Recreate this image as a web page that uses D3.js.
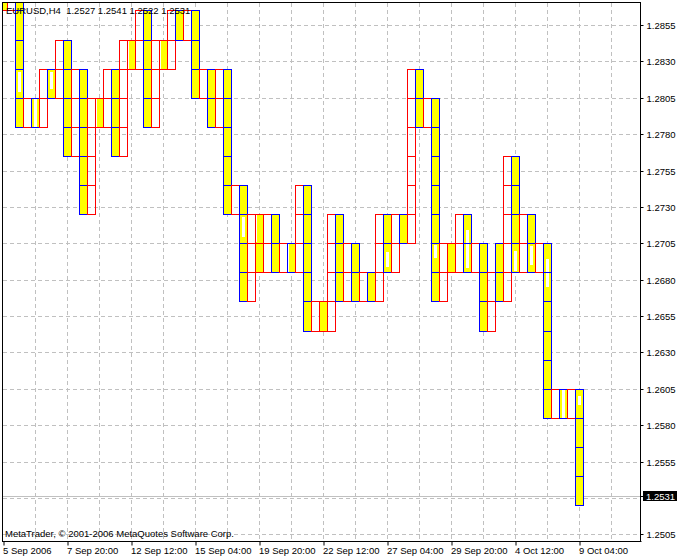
<!DOCTYPE html>
<html><head><meta charset="utf-8">
<script src="https://cdn.jsdelivr.net/npm/d3@7"></script>
<style>
body{margin:0;background:#fff}
svg{display:block}
text{font-family:"Liberation Sans",Arial,sans-serif;font-size:9.5px;fill:#000;white-space:pre}
</style>
</head><body><svg id="c" width="680" height="560"></svg>
<script>
// ---- data ----
const columns = d3.range(-1, 72);
const lows = [1.2865,1.2865,1.2785,1.2785,1.2785,1.2785,1.2805,1.2805,1.2765,1.2765,
  1.2725,1.2725,1.2785,1.2785,1.2765,1.2765,1.2825,1.2825,1.2785,1.2785,
  1.2825,1.2825,1.2845,1.2845,1.2805,1.2805,1.2785,1.2785,1.2725,1.2725,
  1.2665,1.2665,1.2685,1.2685,1.2685,1.2685,1.2685,1.2685,1.2645,1.2645,
  1.2645,1.2645,1.2665,1.2665,1.2665,1.2665,1.2665,1.2665,1.2685,1.2685,
  1.2705,1.2705,1.2785,1.2785,1.2665,1.2665,1.2685,1.2685,1.2685,1.2685,
  1.2645,1.2645,1.2665,1.2665,1.2685,1.2685,1.2685,1.2685,1.2585,1.2585,
  1.2585,1.2585,1.2525];
const highs = [1.2885,1.2885,1.2885,1.2805,1.2805,1.2825,1.2825,1.2845,1.2845,1.2825,
  1.2825,1.2805,1.2805,1.2825,1.2825,1.2845,1.2845,1.2865,1.2865,1.2845,
  1.2845,1.2865,1.2865,1.2865,1.2865,1.2825,1.2825,1.2825,1.2825,1.2745,
  1.2745,1.2725,1.2725,1.2725,1.2725,1.2705,1.2705,1.2745,1.2745,1.2665,
  1.2665,1.2725,1.2725,1.2705,1.2705,1.2685,1.2685,1.2725,1.2725,1.2725,
  1.2725,1.2825,1.2825,1.2805,1.2805,1.2705,1.2705,1.2725,1.2725,1.2705,
  1.2705,1.2685,1.2705,1.2765,1.2765,1.2725,1.2725,1.2705,1.2705,1.2605,
  1.2605,1.2605,1.2605];
// R = red outline, empty; B = blue outline, yellow; Y = red outline, yellow
const kinds = ["Y","R","B","R","B","R","B","R","B","R",
  "B","R","Y","R","B","R","Y","R","B","R",
  "Y","R","B","R","B","R","B","R","B","R",
  "B","R","Y","R","B","R","B","R","B","R",
  "Y","R","B","R","B","R","B","R","B","R",
  "B","R","B","R","B","R","Y","R","B","R",
  "B","R","B","R","B","R","B","R","B","R",
  "B","R","B"];
const boxSize = 0.0020;
// white (foreground) candle bodies visible over the yellow fill: bar index, top price, bottom price
const candleBar = [4, 8, 12, 23, 31, 39, 60, 63, 71, 96, 108, 116, 128, 132, 136, 140, 144];
const candleTop = [1.2823,1.2805,1.2823,1.2805,1.2845,1.2845,1.2723,1.2725,1.2705,1.2699,1.2704,1.2714,1.2700,1.2703,1.2694,1.2605,1.2600];
const candleBot = [1.2809,1.2785,1.2811,1.2785,1.2825,1.2825,1.2709,1.2706,1.2685,1.2689,1.2695,1.2688,1.2686,1.2690,1.2675,1.2585,1.2594];
const priceTicks = [1.2855,1.2830,1.2805,1.2780,1.2755,1.2730,1.2705,1.2680,1.2655,1.2630,1.2605,1.2580,1.2555,1.2530,1.2505];
const timeLabels = ["5 Sep 2006","7 Sep 20:00","12 Sep 12:00","15 Sep 04:00","19 Sep 20:00","22 Sep 12:00","27 Sep 04:00","29 Sep 20:00","4 Oct 12:00","9 Oct 04:00"];
const gridSteps = d3.range(1, 20);
const titleText = "EURUSD,H4  1.2527 1.2541 1.2522 1.2531";
const lastPrice = 1.2531;
const copyright = "MetaTrader, \u00a9 2001-2006 MetaQuotes Software Corp.";

// ---- layout ----
const L = 2, T = 2, R = 640, B = 541;
const svg = d3.select("#c");
const y = d3.scaleLinear().domain([1.2505, 1.2855]).range([534.3, 25]);
const xc = d3.scaleLinear().domain([0, 71]).range([7, 575]);
const xb = d3.scaleLinear().domain([0, 144]).range([3, 579]);
const xt = d3.scaleLinear().domain([0, 9]).range([3, 579]);
const xg = d3.scaleLinear().domain([0, 19]).range([3, 611]);
const py = p => Math.round(y(p));

svg.append("defs").append("clipPath").attr("id","clip")
  .append("rect").attr("x", L+1).attr("y", T+1).attr("width", R-L-1).attr("height", B-T-1);

// grid
const grid = svg.append("g").attr("stroke","#c0c0c0").attr("stroke-dasharray","4,3").attr("shape-rendering","crispEdges");
grid.selectAll("line.h").data(priceTicks).join("line").attr("class","h")
  .attr("x1", L+1).attr("x2", R).attr("y1", d => py(d)+0.5).attr("y2", d => py(d)+0.5);
grid.selectAll("line.v").data(gridSteps).join("line").attr("class","v")
  .attr("x1", d => xg(d)+0.5).attr("x2", d => xg(d)+0.5).attr("y1", T+1).attr("y2", B);

// bid line
svg.append("line").attr("x1", L+1).attr("x2", R).attr("y1", py(lastPrice)+0.5).attr("y2", py(lastPrice)+0.5)
  .attr("stroke","#c0c0c0").attr("shape-rendering","crispEdges");

const plot = svg.append("g").attr("clip-path","url(#clip)").attr("shape-rendering","crispEdges");
const colData = columns.map((c, i) => ({c, lo: lows[i], hi: highs[i], k: kinds[i]}));

// yellow fills
plot.append("g").selectAll("rect").data(colData.filter(d => d.k !== "R")).join("rect")
  .attr("x", d => xc(d.c)+1).attr("width", 7)
  .attr("y", d => py(d.hi)+1).attr("height", d => py(d.lo)-py(d.hi)-1)
  .attr("fill","#ffff00");

// white candles in the foreground
plot.append("g").selectAll("rect").data(candleBar.map((b,i) => ({b, t: candleTop[i], l: candleBot[i]}))).join("rect")
  .attr("x", d => xb(d.b)-1).attr("width", 3)
  .attr("y", d => py(d.t)).attr("height", d => Math.max(1, py(d.l)-py(d.t)))
  .attr("fill","#fff");

// box outlines, column by column
colData.forEach(d => {
  const stroke = d.k === "B" ? "#0000ff" : "#ff0000";
  const n = Math.round((d.hi - d.lo)/boxSize);
  const boxes = d3.range(n).map(j => [d.lo + j*boxSize, d.lo + (j+1)*boxSize]);
  plot.append("g").selectAll("rect").data(boxes).join("rect")
    .attr("x", xc(d.c)+0.5).attr("width", 8)
    .attr("y", b => py(b[1])+0.5).attr("height", b => py(b[0]) - py(b[1]))
    .attr("fill","none").attr("stroke", stroke);
});

// frame
svg.append("path").attr("d", `M${L+0.5},${B+0.5}V${T+0.5}H${R+0.5}`).attr("fill","none").attr("stroke","#000").attr("shape-rendering","crispEdges");

// y axis
const yAxis = d3.axisRight(y).tickValues(priceTicks.filter(p => Math.abs(p-1.2530) > 1e-6))
  .tickSize(3).tickPadding(3).tickFormat(d3.format(".4f"));
const ya = svg.append("g").attr("transform", `translate(${R+0.5},0)`).call(yAxis);
ya.select(".domain").attr("d", `M0,${T}V${B+1}`).attr("stroke","#000");
ya.selectAll(".tick line").attr("stroke","#000");
ya.selectAll(".tick").attr("transform", d => `translate(0,${py(d)+0.5})`);
ya.selectAll("text").attr("fill","#000");
ya.attr("font-size", null).attr("font-family", null);

// current price box
const cp = svg.append("g");
cp.append("rect").attr("x", 643).attr("y", py(lastPrice)-5).attr("width", 34).attr("height", 10).attr("fill","#000");
cp.append("text").attr("x", 646).attr("y", py(lastPrice)+0.5).attr("dy","0.35em").style("fill","#fff").text(d3.format(".4f")(lastPrice));
svg.append("line").attr("x1", R).attr("x2", R+3).attr("y1", py(lastPrice)+0.5).attr("y2", py(lastPrice)+0.5).attr("stroke","#000");

// x axis
const xAxis = d3.axisBottom(xt).tickValues(d3.range(10)).tickSize(4).tickFormat(i => timeLabels[i]);
const xa = svg.append("g").attr("transform", `translate(0.5,${B+0.5})`).call(xAxis);
xa.select(".domain").attr("d", `M${L},0H${R+1}`).attr("stroke","#000");
xa.selectAll(".tick line").attr("stroke","#000");
xa.selectAll("text").attr("text-anchor","start").attr("x",-1).attr("dy","0.71em").attr("y", 6).attr("fill","#000");
xa.attr("font-size", null).attr("font-family", null);

// texts
svg.append("text").attr("x", 6).attr("y", 14).text(titleText);
svg.append("text").attr("x", 5).attr("y", 537).text(copyright);
</script>
</body></html>
